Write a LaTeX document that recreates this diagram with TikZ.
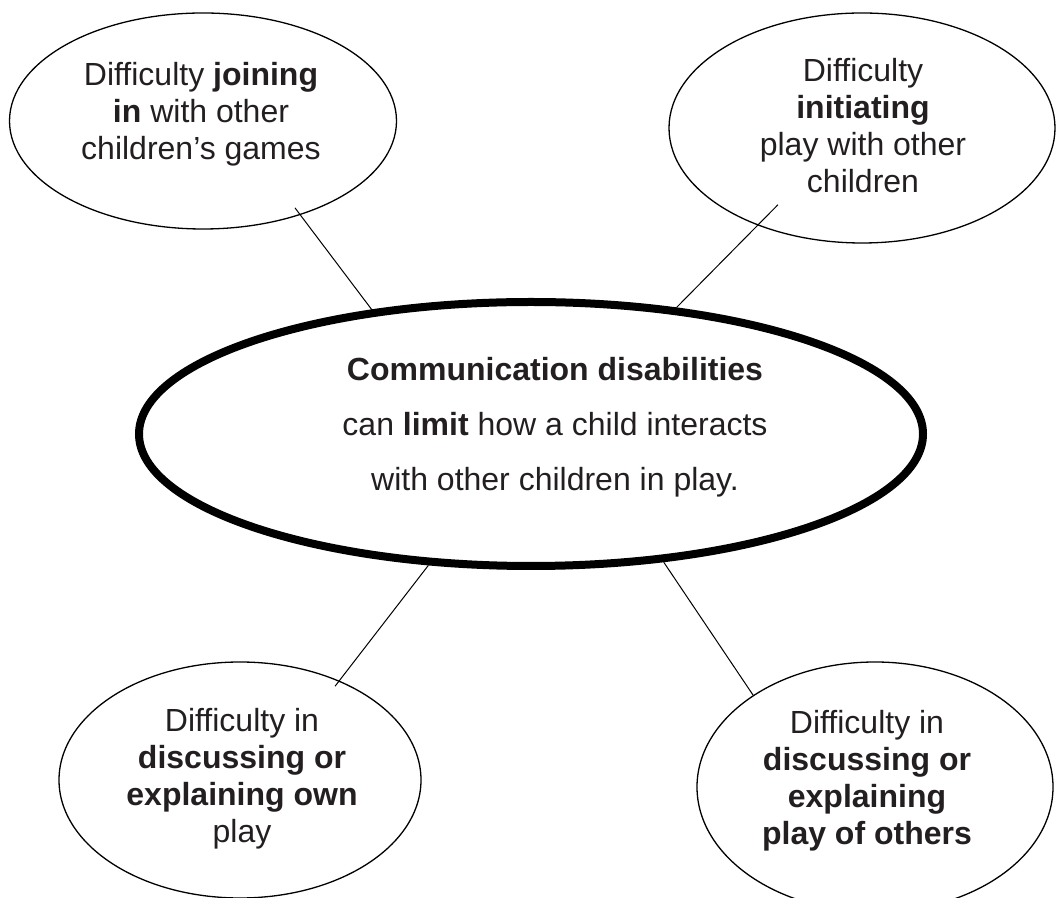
\documentclass[tikz,border=0pt]{standalone}
\usepackage{fontspec}
\setmainfont{Liberation Sans}
\usetikzlibrary{shapes.geometric}
\definecolor{ink}{RGB}{35,31,32}

\begin{document}
\begin{tikzpicture}[x=1pt,y=1pt,
  bubble/.style={draw,ellipse,line width=1.3pt,inner sep=0pt},
  hub/.style={draw,ellipse,line width=8pt,inner sep=0pt},
  txt/.style={align=center,inner sep=0pt,text=ink,font=\fontsize{32}{37}\selectfont},
  spoke/.style={line width=1pt}]
  \useasboundingbox (0,0) rectangle (1057,897);

  % big ellipse in the middle
  \node[hub,minimum width=784pt,minimum height=264pt] (hub) at (531,463) {};
  \node[txt,font=\fontsize{32}{55}\selectfont] (hubtext) at (555,470)
    {\textbf{Communication disabilities}\\can \textbf{limit} how a child interacts\\with other children in play.};

  % the four ellipses round it
  \node[bubble,minimum width=387pt,minimum height=216pt] (join) at (203,776) {};
  \node[txt] (jointext) at (201,783)
    {Difficulty \textbf{joining}\\\textbf{in} with other\\children’s games};

  \node[bubble,minimum width=386pt,minimum height=230pt] (start) at (862,769) {};
  \node[txt] (starttext) at (863,771)
    {Difficulty\\\textbf{initiating}\\play with other\\children};

  \node[bubble,minimum width=362pt,minimum height=236pt] (own) at (240,117) {};
  \node[txt] (owntext) at (242,118)
    {Difficulty in\\\textbf{discussing or}\\\textbf{explaining own}\\play};

  \node[bubble,minimum width=356pt,minimum height=250pt] (others) at (875,110) {};
  \node[txt] (otherstext) at (867,116)
    {Difficulty in\\\textbf{discussing or}\\\textbf{explaining}\\\textbf{play of others}};

  % spokes, running a little into the small ellipses
  \draw[spoke,shorten <=-5pt,shorten >=-9pt] (hub.142) -- (join.-44);
  \draw[spoke,shorten >=-29pt] (hub.41) -- (start.223.6);
  \draw[spoke,shorten >=-7pt] (hub.232) -- (own.45.9);
  \draw[spoke] (hub.316) -- (others.143);
\end{tikzpicture}
\end{document}
